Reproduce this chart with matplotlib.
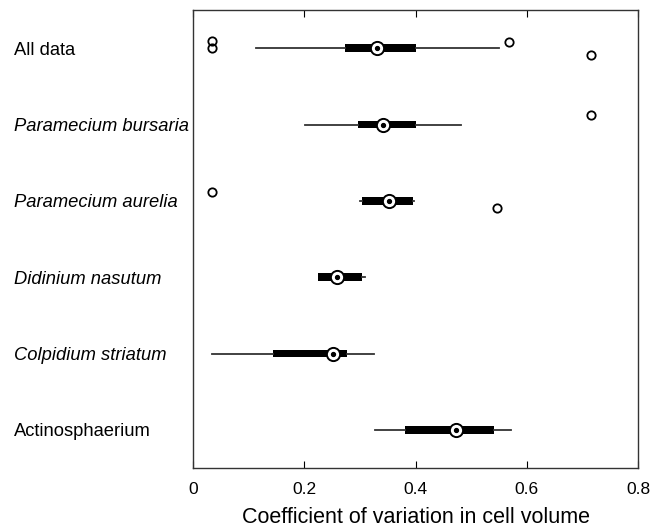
import numpy as np
import matplotlib.pyplot as plt

plt.rcParams['font.family'] = ['Liberation Sans', 'DejaVu Sans']

# groups, top to bottom
groups = ['All data', 'Paramecium bursaria', 'Paramecium aurelia',
          'Didinium nasutum', 'Colpidium striatum', 'Actinosphaerium']
italic = [False, True, True, True, True, False]

# box plot summaries
whis_lo = [0.114, 0.202, 0.300, 0.224, 0.035, 0.328]
q1 = [0.273, 0.296, 0.303, 0.224, 0.144, 0.382]
med = [0.331, 0.342, 0.352, 0.258, 0.251, 0.473]
q3 = [0.400, 0.400, 0.395, 0.303, 0.277, 0.542]
whis_hi = [0.550, 0.481, 0.398, 0.310, 0.325, 0.571]

# outliers: (group index, value, vertical jitter)
out_group = [0, 0, 0, 0, 1, 2, 2]
out_value = [0.035, 0.035, 0.569, 0.716, 0.716, 0.035, 0.547]
out_jitter = [-0.10, 0.0, -0.08, 0.09, -0.12, -0.11, 0.09]

fig = plt.figure(figsize=(6.51, 5.30), dpi=100)
ax = fig.add_axes([0.2965, 0.117, 0.6835, 0.864])

pos = np.arange(1, len(groups) + 1)
stats = []
for i in range(len(groups)):
    stats.append(dict(whislo=whis_lo[i], q1=q1[i], med=med[i], q3=q3[i],
                      whishi=whis_hi[i], fliers=[]))

ax.bxp(stats, positions=pos, vert=False, showfliers=False, showcaps=False,
       patch_artist=True, widths=0.1,
       boxprops=dict(facecolor='black', edgecolor='black', linewidth=0),
       whiskerprops=dict(color='#333333', linewidth=1.3),
       medianprops=dict(linewidth=0))

# median markers
ax.plot(med, pos, 'o', ms=9.5, mfc='white', mec='black', mew=1.4, zorder=5)
ax.plot(med, pos, 'o', ms=2.8, mfc='black', mec='black', zorder=6)

# outliers
oy = [pos[g] + j for g, j in zip(out_group, out_jitter)]
ax.plot(out_value, oy, 'o', ms=6, mfc='none', mec='black', mew=1.3, zorder=5)

ax.set_xlim(0, 0.8)
ax.set_ylim(6.5, 0.5)
ax.set_xticks([0, 0.2, 0.4, 0.6, 0.8])
ax.set_xticklabels(['0', '0.2', '0.4', '0.6', '0.8'])
ax.tick_params(axis='x', direction='in', length=5, top=True, labelsize=12.5, pad=10)
ax.set_yticks(pos)
ax.set_yticklabels(groups)
ax.tick_params(axis='y', length=0, labelsize=13.2, pad=129)
for lbl, it in zip(ax.get_yticklabels(), italic):
    lbl.set_ha('left')
    if it:
        lbl.set_style('italic')
for sp in ax.spines.values():
    sp.set_color('#333333')
    sp.set_linewidth(1.0)

ax.set_xlabel('Coefficient of variation in cell volume', fontsize=15.5)
ax.xaxis.set_label_coords(0.5, -0.085)

fig.savefig('out.png', dpi=100)
